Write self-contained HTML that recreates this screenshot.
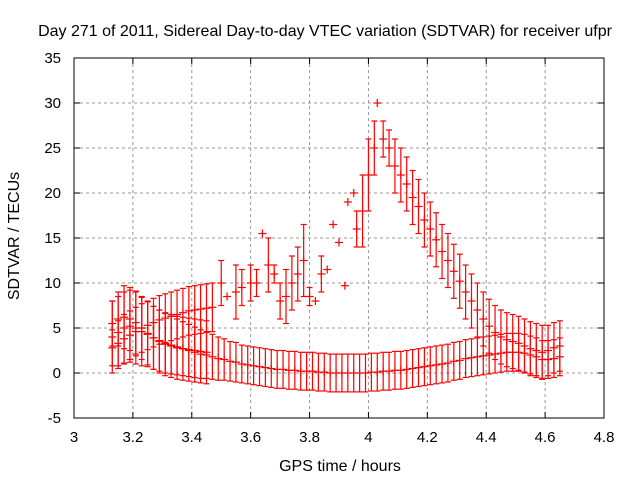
<!DOCTYPE html>
<html><head><meta charset="utf-8"><style>
body{margin:0;background:#fff}
svg{display:block;font-family:"Liberation Sans",sans-serif}
</style></head><body>
<svg id="chart" width="640" height="480">
<text x="325" y="36" text-anchor="middle" font-size="16">Day 271 of 2011, Sidereal Day-to-day VTEC variation (SDTVAR) for receiver ufpr</text>
<text x="340" y="471" text-anchor="middle" font-size="16">GPS time / hours</text>
<text x="0" y="0" transform="translate(19,236) rotate(-90)" text-anchor="middle" font-size="16">SDTVAR / TECUs</text>
<g id="grid"></g><g id="marks"></g><g id="axes"></g>
</svg>
<script>
const xTicks=[3,3.2,3.4,3.6,3.8,4,4.2,4.4,4.6,4.8];
const yTicks=[-5,0,5,10,15,20,25,30,35];
// baseline series
const baseX=[3.13,3.15,3.17,3.19,3.21,3.23,3.25,3.27,3.29,3.31,3.33,3.35,3.37,3.39,3.41,3.43,3.45,3.47,3.49,3.51,3.53,3.55,3.57,3.59,3.61,3.63,3.65,3.67,3.69,3.71,3.73,3.75,3.77,3.79,3.81,3.83,3.85,3.87,3.89,3.91,3.93,3.95,3.97,3.99,4.01,4.03,4.05,4.07,4.09,4.11,4.13,4.15,4.17,4.19,4.21,4.23,4.25,4.27,4.29,4.31,4.33,4.35,4.37,4.39,4.41,4.43,4.45,4.47,4.49,4.51,4.53,4.55,4.57,4.59,4.61,4.63,4.65];
const baseV=[4.0,4.5,5.0,5.2,5.0,4.6,4.3,3.9,3.6,3.3,3.1,2.9,2.7,2.5,2.3,2.1,2.0,1.8,1.6,1.5,1.3,1.2,1.0,0.9,0.8,0.7,0.6,0.5,0.4,0.4,0.3,0.3,0.2,0.2,0.2,0.1,0.1,0.0,0.0,0.0,0.0,0.0,0.0,0.0,0.1,0.1,0.2,0.2,0.3,0.3,0.4,0.5,0.6,0.7,0.8,0.9,1.0,1.1,1.3,1.4,1.6,1.7,1.8,1.9,2.0,2.1,2.2,2.3,2.3,2.3,2.2,2.0,1.8,1.5,1.5,1.6,1.8];
const baseErr=[4.0,4.0,4.0,4.0,4.0,3.8,3.6,3.5,3.4,3.3,3.2,3.1,3.0,2.9,2.8,2.7,2.6,2.5,2.4,2.3,2.2,2.2,2.1,2.1,2.1,2.1,2.1,2.1,2.1,2.1,2.1,2.1,2.1,2.1,2.1,2.1,2.1,2.1,2.1,2.1,2.1,2.1,2.1,2.1,2.1,2.1,2.1,2.1,2.1,2.1,2.1,2.1,2.1,2.1,2.1,2.1,2.1,2.1,2.1,2.1,2.1,2.1,2.1,2.1,2.1,2.1,2.1,2.1,2.1,2.1,2.1,2.1,2.1,2.1,2.1,2.1,2.1];
// early declining series
const aX=[3.13,3.15,3.17,3.19,3.21,3.23,3.25,3.27,3.29,3.31,3.33,3.35,3.37,3.39,3.41,3.43,3.45];
const aV=[5.5,6.0,6.2,6.0,5.6,5.0,4.4,3.9,3.5,3.2,3.0,2.8,2.7,2.6,2.5,2.4,2.3];
const aErr=[2.5,3.0,3.5,3.5,3.5,3.5,3.5,3.5,3.5,3.5,3.5,3.5,3.5,3.5,3.5,3.5,3.5];
// early rising series
const cX=[3.13,3.15,3.17,3.19,3.21,3.23,3.25,3.27,3.29,3.31,3.33,3.35,3.37,3.39,3.41,3.43,3.45,3.47];
const cV=[2.8,3.3,3.8,4.2,4.6,5.0,5.3,5.6,5.9,6.1,6.3,6.5,6.7,6.9,7.0,7.1,7.2,7.3];
const cErr=[2.0,2.5,2.7,2.7,2.7,2.7,2.7,2.7,2.7,2.7,2.7,2.7,2.7,2.7,2.7,2.7,2.7,2.7];
// peak series
const pX=[3.5,3.52,3.55,3.57,3.6,3.62,3.64,3.66,3.68,3.7,3.72,3.74,3.76,3.78,3.8,3.82,3.84,3.86,3.88,3.9,3.92,3.93,3.95,3.96,3.98,4.0,4.02,4.03,4.05,4.07,4.09,4.11,4.13,4.15,4.17,4.19,4.21,4.23,4.25,4.27,4.29,4.31,4.33,4.35,4.37,4.39,4.41,4.43,4.45,4.47,4.49,4.51,4.53,4.55,4.57,4.59,4.61,4.63,4.65];
const pV=[10,8.5,9,9.5,10,10,15.5,12,11,8,8.5,10,11,12.5,8.5,8,11,11.5,16.5,14.5,9.7,19,20,16,18,22,25,30,26,25,23,22,21,19.5,18.5,17,16,14.8,13.5,12.5,11.3,10.2,9,8,7,6,5.2,4.5,4,3.7,3.5,3.3,3,2.7,2.5,2.3,2.5,2.8,3.0];
const pErr=[2.5,0,3,2,2,1.5,0,3,1,2,3,3,3,4,1,0,2,0,0,0,0,0,0,2,4,4,3,0,2,2,3,3,3,3,3,3,3,3,3,3,3,3,3,3,3,3,3,3,3,3,3,3,3,3,3,3,2.8,2.8,2.8];

const L=74,R=604,T=58,B=418;
const sx=v=>L+(v-3)/(4.8-3)*(R-L);
const sy=v=>B-(v+5)/40*(B-T);
const NS='http://www.w3.org/2000/svg';
function mk(tag,attrs,parent){const e=document.createElementNS(NS,tag);for(const k in attrs)e.setAttribute(k,attrs[k]);parent.appendChild(e);return e;}
const grid=document.getElementById('grid'),axes=document.getElementById('axes'),marks=document.getElementById('marks');
xTicks.forEach(t=>{const x=sx(t);
 if(t>3&&t<4.8){const g=mk('line',{x1:x,x2:x,y1:T,y2:B,stroke:'#999','stroke-dasharray':'3,3'},grid);
 
 }
 mk('line',{x1:x,x2:x,y1:B,y2:B-6,stroke:'#000'},axes);mk('line',{x1:x,x2:x,y1:T,y2:T+6,stroke:'#000'},axes);
 const lb=mk('text',{x:x,y:B+24,'text-anchor':'middle','font-size':15},axes);lb.textContent=t;
 
 });
yTicks.forEach(t=>{const y=sy(t);
 if(t>-5&&t<35){const g=mk('line',{x1:L,x2:R,y1:y,y2:y,stroke:'#999','stroke-dasharray':'3,3'},grid);
 
 }
 mk('line',{x1:L,x2:L+6,y1:y,y2:y,stroke:'#000'},axes);mk('line',{x1:R,x2:R-6,y1:y,y2:y,stroke:'#000'},axes);
 const lb=mk('text',{x:L-13,y:y+5,'text-anchor':'end','font-size':15},axes);lb.textContent=t;
 
 });
const fr=mk('rect',{x:L,y:T,width:R-L,height:B-T,fill:'none',stroke:'#000'},axes);


function series(xs,vs,es,name){const g=mk('g',{stroke:'#f00','stroke-width':1.2,fill:'none'},marks);
 
 
 xs.forEach((xv,i)=>{const x=sx(xv),y=sy(vs[i]);
  if(es[i]>0){const y1=sy(vs[i]+es[i]),y2=sy(vs[i]-es[i]);
   mk('line',{x1:x,x2:x,y1:y1,y2:y2},g);mk('line',{x1:x-3,x2:x+3,y1:y1,y2:y1},g);mk('line',{x1:x-3,x2:x+3,y1:y2,y2:y2},g);}
  mk('line',{x1:x-4,x2:x+4,y1:y,y2:y},g);mk('line',{x1:x,x2:x,y1:y-4,y2:y+4},g);});}
series(baseX,baseV,baseErr,'baseline-series');
series(aX,aV,aErr,'early-declining-series');
series(cX,cV,cErr,'early-rising-series');
series(pX,pV,pErr,'peak-series');
</script>
</body></html>
